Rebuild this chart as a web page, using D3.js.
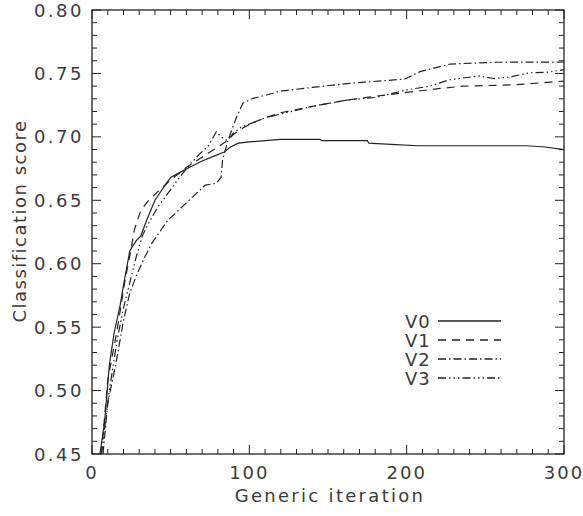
<!DOCTYPE html>
<html><head><meta charset="utf-8">
<script src="https://cdn.jsdelivr.net/npm/d3@7"></script>
<style>body{margin:0;background:#fff;} text{font-family:"DejaVu Sans",sans-serif;fill:#3a3a3a;}</style>
</head><body><svg id="c" width="583" height="516"></svg>
<script>
const seriesNames = ["V0","V1","V2","V3"];
const v0 = [[5,0.45],[8,0.475],[11,0.52],[14,0.545],[18,0.568],[20,0.583],[24,0.610],[28,0.618],[31,0.622],[35,0.635],[40,0.650],[47,0.663],[50,0.668],[56,0.672],[62,0.676],[70,0.681],[78,0.685],[84,0.688],[88,0.692],[93,0.695],[100,0.696],[110,0.697],[120,0.698],[145,0.698],[146,0.697],[175,0.697],[176,0.695],[190,0.694],[207,0.693],[240,0.693],[276,0.693],[288,0.692],[300,0.690]];
const v1 = [[6,0.45],[10,0.508],[16,0.548],[21,0.587],[24,0.606],[27,0.627],[31,0.642],[36,0.650],[42,0.657],[50,0.666],[60,0.676],[70,0.684],[80,0.692],[86,0.697],[90,0.702],[96,0.707],[102,0.711],[110,0.715],[120,0.719],[140,0.724],[162,0.729],[180,0.732],[200,0.735],[220,0.738],[236,0.740],[268,0.741],[295,0.7435],[300,0.744]];
const v2 = [[7,0.45],[10,0.49],[15,0.52],[20,0.555],[24,0.577],[28,0.59],[33,0.604],[38,0.616],[48,0.634],[60,0.648],[72,0.662],[79,0.6634],[82,0.668],[83,0.682],[86.5,0.6975],[92,0.716],[96,0.7267],[102.5,0.7304],[111,0.733],[119.5,0.736],[140,0.739],[162,0.742],[199,0.7456],[208.5,0.7514],[227.5,0.7574],[257,0.7588],[300,0.759]];
const v3 = [[6,0.45],[11,0.50],[16,0.54],[20,0.565],[24,0.585],[28,0.605],[32,0.622],[36,0.632],[42,0.645],[48,0.655],[55,0.667],[62,0.678],[68,0.686],[74,0.693],[79,0.704],[82,0.700],[86,0.697],[90,0.703],[95,0.708],[100,0.710],[110,0.715],[120,0.718],[140,0.724],[162,0.729],[180,0.731],[200,0.737],[215,0.740],[227,0.745],[246,0.748],[255,0.746],[265,0.747],[278,0.7505],[290,0.751],[300,0.753]];
const series = [v0,v1,v2,v3];
const dashes = ["none","8,6","8,3,1.5,3","8,3,1.5,3,1.5,3,1.5,3"];
const xTicks = [0,100,200,300];
const yTicks = [0.45,0.50,0.55,0.60,0.65,0.70,0.75,0.80];
const xLabel = "Generic iteration", yLabel = "Classification score";

const svg = d3.select("#c");
const L=92,R=564,T=10,B=454;
const x = d3.scaleLinear().domain([0,300]).range([L,R]);
const y = d3.scaleLinear().domain([0.45,0.80]).range([B,T]);
const col="#222";
const g = svg.append("g");
g.append("rect").attr("x",L).attr("y",T).attr("width",R-L).attr("height",B-T).attr("fill","none").attr("stroke",col).attr("stroke-width",1.3);
const xMinor = d3.range(0,301,10), yMinor = d3.range(45,81,1).map(d=>d/100);
function tickLen(maj){return maj?9:5;}
xMinor.forEach(v=>{const maj=v%100===0;const l=tickLen(maj);
  g.append("line").attr("x1",x(v)).attr("x2",x(v)).attr("y1",B).attr("y2",B-l).attr("stroke",col);
  g.append("line").attr("x1",x(v)).attr("x2",x(v)).attr("y1",T).attr("y2",T+l).attr("stroke",col);});
yMinor.forEach(v=>{const maj=Math.round(v*100)%5===0;const l=tickLen(maj);
  g.append("line").attr("y1",y(v)).attr("y2",y(v)).attr("x1",L).attr("x2",L+l).attr("stroke",col);
  g.append("line").attr("y1",y(v)).attr("y2",y(v)).attr("x1",R).attr("x2",R-l).attr("stroke",col);});
xTicks.forEach(v=>g.append("text").attr("x",x(v)).attr("y",479).attr("text-anchor","middle").attr("font-size",18).attr("letter-spacing",2).text(v));
yTicks.forEach(v=>g.append("text").attr("x",84).attr("y",y(v)+6.5).attr("text-anchor","end").attr("font-size",18).attr("letter-spacing",2.5).text(v.toFixed(2)));
g.append("text").attr("x",330).attr("y",502).attr("text-anchor","middle").attr("font-size",18).attr("letter-spacing",2.3).text(xLabel);
g.append("text").attr("transform","translate(26,221) rotate(-90)").attr("text-anchor","middle").attr("font-size",18).attr("letter-spacing",1.5).text(yLabel);

const line = d3.line().x(d=>x(d[0])).y(d=>y(d[1]));
svg.append("clipPath").attr("id","cp").append("rect").attr("x",L).attr("y",T).attr("width",R-L).attr("height",B-T);
series.forEach((s,i)=>svg.append("path").datum(s).attr("d",line).attr("fill","none").attr("stroke",col).attr("stroke-width",1.2).attr("stroke-dasharray",dashes[i]==="none"?null:dashes[i]).attr("clip-path","url(#cp)"));
const ly = [321,340,359,378];
seriesNames.forEach((n,i)=>{
  svg.append("text").attr("x",405).attr("y",ly[i]+7).attr("font-size",18).attr("letter-spacing",1).text(n);
  svg.append("line").attr("x1",438).attr("x2",501).attr("y1",ly[i]).attr("y2",ly[i]).attr("stroke",col).attr("stroke-width",1.3).attr("stroke-dasharray",dashes[i]==="none"?null:dashes[i]);
});
</script></body></html>
